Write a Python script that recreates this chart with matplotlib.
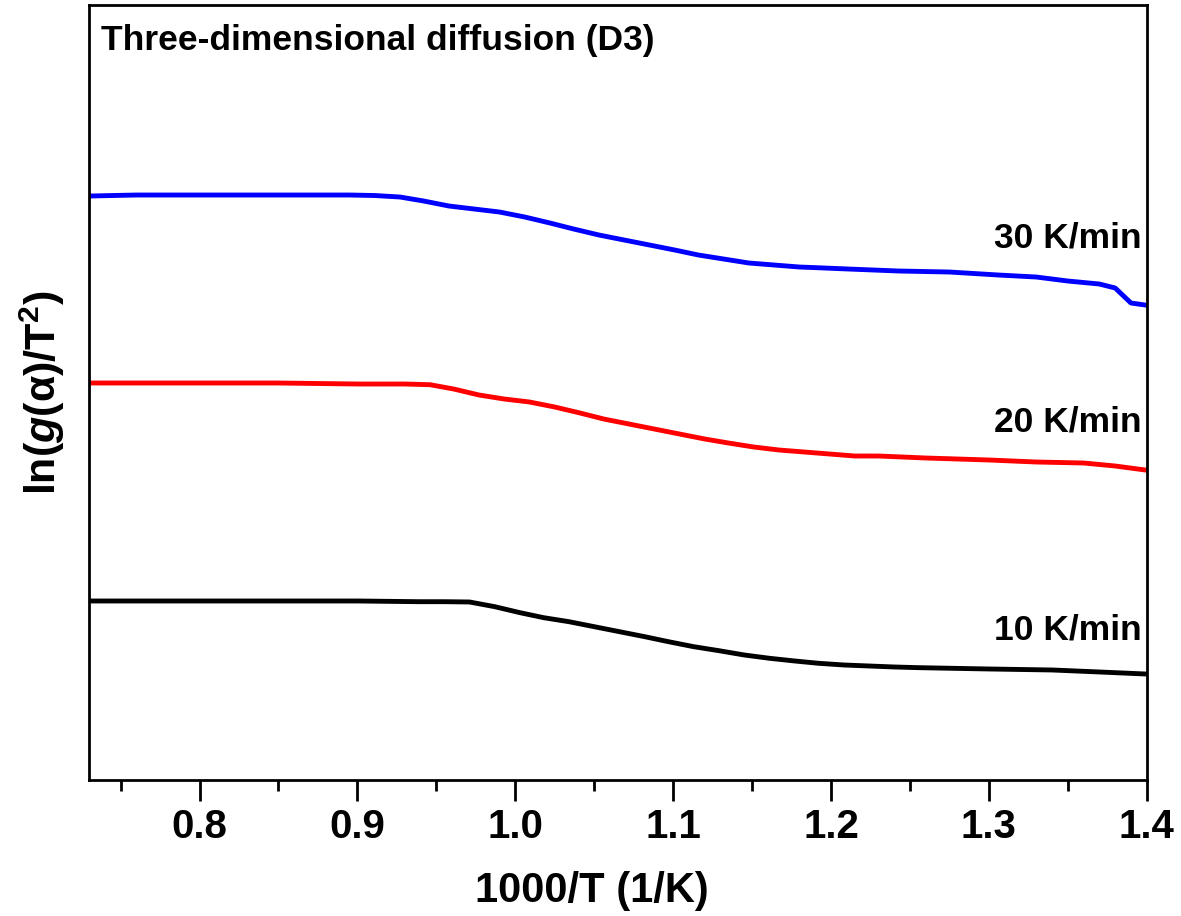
import matplotlib
matplotlib.use('Agg')
import matplotlib.pyplot as plt
from matplotlib.ticker import MultipleLocator

plt.rcParams['font.family'] = 'Liberation Sans'
plt.rcParams['font.weight'] = 'bold'
plt.rcParams['mathtext.fontset'] = 'custom'
plt.rcParams['mathtext.rm'] = 'Liberation Sans:bold'
plt.rcParams['mathtext.it'] = 'Liberation Sans:bold:italic'
plt.rcParams['mathtext.bf'] = 'Liberation Sans:bold'

# 1000/T values (1/K), y in arbitrary units (no y scale shown)
x_30 = [0.73, 0.76, 0.80, 0.85, 0.895, 0.911, 0.927, 0.942, 0.958, 0.974, 0.990,
        1.006, 1.022, 1.037, 1.053, 1.069, 1.085, 1.101, 1.116, 1.132, 1.148,
        1.164, 1.180, 1.196, 1.211, 1.243, 1.275, 1.306, 1.33, 1.35, 1.37,
        1.380, 1.390, 1.399]
y_30 = [5.84, 5.85, 5.85, 5.85, 5.85, 5.845, 5.83, 5.79, 5.74, 5.71, 5.68,
        5.63, 5.57, 5.51, 5.45, 5.40, 5.35, 5.30, 5.25, 5.21, 5.17,
        5.15, 5.13, 5.12, 5.11, 5.09, 5.08, 5.05, 5.03, 4.99, 4.96,
        4.92, 4.77, 4.75]

x_20 = [0.73, 0.80, 0.85, 0.90, 0.914, 0.930, 0.946, 0.961, 0.977, 0.993, 1.009,
        1.025, 1.041, 1.056, 1.072, 1.088, 1.104, 1.120, 1.135, 1.151, 1.167,
        1.183, 1.199, 1.215, 1.230, 1.26, 1.30, 1.33, 1.36, 1.38, 1.399]
y_20 = [3.97, 3.97, 3.97, 3.96, 3.96, 3.96, 3.953, 3.91, 3.85, 3.81, 3.78,
        3.73, 3.67, 3.61, 3.56, 3.51, 3.46, 3.41, 3.37, 3.33, 3.30,
        3.28, 3.26, 3.24, 3.24, 3.22, 3.20, 3.18, 3.17, 3.14, 3.10]

x_10 = [0.73, 0.76, 0.80, 0.85, 0.90, 0.939, 0.955, 0.971, 0.987, 1.003, 1.018,
        1.034, 1.050, 1.066, 1.082, 1.097, 1.113, 1.129, 1.145, 1.161, 1.177,
        1.192, 1.208, 1.224, 1.240, 1.256, 1.30, 1.34, 1.37, 1.399]
y_10 = [1.79, 1.79, 1.79, 1.79, 1.79, 1.783, 1.783, 1.78, 1.733, 1.673, 1.623,
        1.583, 1.533, 1.483, 1.433, 1.383, 1.333, 1.293, 1.25, 1.217, 1.19,
        1.167, 1.15, 1.14, 1.13, 1.123, 1.11, 1.10, 1.08, 1.06]

labels = ['30 K/min', '20 K/min', '10 K/min']
label_y = [5.42, 3.58, 1.50]

fig = plt.figure(figsize=(11.81, 9.16), dpi=100)
ax = fig.add_axes([0.0754, 0.1485, 0.8956, 0.846])

ax.plot(x_30, y_30, color='#0000ff', lw=3.5)
ax.plot(x_20, y_20, color='#ff0000', lw=3.5)
ax.plot(x_10, y_10, color='black', lw=3.5)

ax.set_xlim(0.73, 1.4)
ax.set_ylim(0, 7.75)

for lab, ly in zip(labels, label_y):
    ax.text(1.397, ly, lab, ha='right', va='center', fontsize=25.5, fontweight='bold')

ax.text(0.011, 0.975, 'Three-dimensional diffusion (D3)', transform=ax.transAxes,
        ha='left', va='top', fontsize=25.5, fontweight='bold')

ax.xaxis.set_major_locator(MultipleLocator(0.1))
ax.xaxis.set_minor_locator(MultipleLocator(0.05))
ax.tick_params(axis='x', which='major', length=15, width=2, direction='out',
               labelsize=29, pad=5)
ax.tick_params(axis='x', which='minor', length=8, width=2, direction='out')
ax.set_yticks([])
for s in ax.spines.values():
    s.set_linewidth(2)

ax.set_xlabel('1000/T (1/K)', fontsize=30, fontweight='bold')
ax.xaxis.set_label_coords(0.475, -0.118)
ax.set_ylabel(r'ln($\mathit{g}$(α)/T$^2$)', fontsize=31, fontweight='bold', labelpad=16)

fig.savefig('out.png', dpi=100)
